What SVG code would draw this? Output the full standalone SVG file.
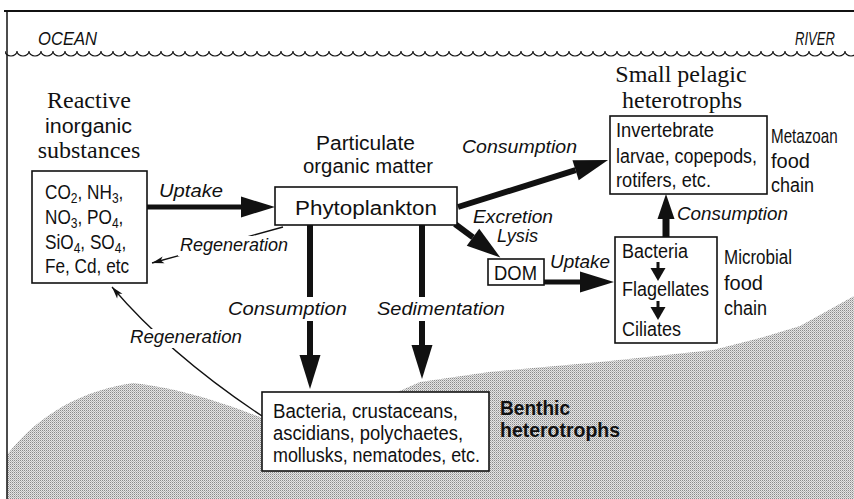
<svg xmlns="http://www.w3.org/2000/svg" width="854" height="499" viewBox="0 0 854 499">
<style>
.sf{font-family:"Liberation Serif","Times New Roman",serif;font-size:24px;fill:#111}
.sn{font-family:"Liberation Sans",Arial,sans-serif;font-size:20px;fill:#111}
.it{font-family:"Liberation Sans",Arial,sans-serif;font-style:italic;font-size:18px;fill:#111}
.bd{font-family:"Liberation Sans",Arial,sans-serif;font-weight:bold;font-size:20px;fill:#111}
.box{fill:#fff;stroke:#111;stroke-width:1.6}
.thick{stroke:#111;fill:none}
.thin{stroke:#111;stroke-width:1.3;fill:none}
.bg{fill:#fff}
</style>
<defs>
<pattern id="stip" width="2" height="2" patternUnits="userSpaceOnUse">
<rect width="2" height="2" fill="#e4e4e4"/>
<rect width="1" height="1" fill="#8a8a8a"/>
<rect x="1" y="1" width="1" height="1" fill="#b8b8b8"/>
</pattern>
<pattern id="wave" x="5" y="48" width="12" height="12" patternUnits="userSpaceOnUse">
<path d="M0,3 A6,5 0 0 0 12,3" fill="none" stroke="#111" stroke-width="1.1"/>
</pattern>
<marker id="big" markerUnits="userSpaceOnUse" markerWidth="36" markerHeight="22" refX="0" refY="10.5" orient="auto" overflow="visible">
<path d="M0,0 L34,10.5 L0,21 Z" fill="#111"/>
</marker>
<marker id="mid" markerUnits="userSpaceOnUse" markerWidth="26" markerHeight="18" refX="0" refY="8.5" orient="auto" overflow="visible">
<path d="M0,0 L25,8.5 L0,17 Z" fill="#111"/>
</marker>
<marker id="sm" markerUnits="userSpaceOnUse" markerWidth="14" markerHeight="16" refX="0" refY="7.5" orient="auto" overflow="visible">
<path d="M0,0 L13,7.5 L0,15 Z" fill="#111"/>
</marker>
<marker id="tn" markerUnits="userSpaceOnUse" markerWidth="13" markerHeight="8" refX="12" refY="3.5" orient="auto" overflow="visible">
<path d="M0,0 L12,3.5 L0,7 L3,3.5 Z" fill="#111"/>
</marker>
</defs>
<rect width="854" height="499" fill="#fff"/>
<g id="frame">
<path d="M7,455 C30,425 70,392 133,383 C180,388 230,405 262,418 L395,393 L420,382 L489,372 L600,362 L713,350 L760,338 L800,326 L854,296 L854,499 L7,499 Z" fill="url(#stip)"/>
<line x1="4" y1="11" x2="854" y2="11" stroke="#111" stroke-width="2"/>
<line x1="7" y1="11" x2="7" y2="499" stroke="#111" stroke-width="1.5"/>
<rect x="5" y="48" width="849" height="12" fill="url(#wave)"/>
<text class="it" x="38" y="45" textLength="59" lengthAdjust="spacingAndGlyphs">OCEAN</text>
<text class="it" x="795" y="45" textLength="40" lengthAdjust="spacingAndGlyphs">RIVER</text>
</g>
<g id="connectors">
<line class="thick" x1="147" y1="207" x2="241" y2="207" stroke-width="5" marker-end="url(#big)"/>
<line class="thin" x1="283" y1="227" x2="152" y2="263" marker-end="url(#tn)"/>
<path class="thin" d="M262,416 Q170,355 112,287" marker-end="url(#tn)"/>
<line class="thick" x1="310" y1="225" x2="310" y2="297" stroke-width="6"/>
<line class="thick" x1="310" y1="321" x2="310" y2="355" stroke-width="6" marker-end="url(#big)"/>
<line class="thick" x1="422" y1="225" x2="422" y2="297" stroke-width="6"/>
<line class="thick" x1="422" y1="321" x2="422" y2="345" stroke-width="6" marker-end="url(#big)"/>
<line class="thick" x1="458" y1="207" x2="575.6" y2="170.2" stroke-width="6" marker-end="url(#big)"/>
<line class="thick" x1="455" y1="224" x2="473" y2="237.3" stroke-width="6" marker-end="url(#big)"/>
<line class="thick" x1="544" y1="282" x2="580" y2="282" stroke-width="5" marker-end="url(#big)"/>
<line class="thick" x1="666" y1="237" x2="666" y2="219" stroke-width="7" marker-end="url(#mid)"/>
<rect class="bg" x="178" y="236" width="112" height="20"/>
<rect class="bg" x="128" y="329" width="116" height="19"/>
<text class="it" x="159" y="197" textLength="64" lengthAdjust="spacingAndGlyphs">Uptake</text>
<text class="it" x="180" y="251" textLength="108" lengthAdjust="spacingAndGlyphs">Regeneration</text>
<text class="it" x="130" y="343" textLength="112" lengthAdjust="spacingAndGlyphs">Regeneration</text>
<text class="it" x="228" y="315" textLength="119" lengthAdjust="spacingAndGlyphs">Consumption</text>
<text class="it" x="377" y="315" textLength="128" lengthAdjust="spacingAndGlyphs">Sedimentation</text>
<text class="it" x="462" y="153" textLength="115" lengthAdjust="spacingAndGlyphs">Consumption</text>
<text class="it" x="473" y="223" textLength="80" lengthAdjust="spacingAndGlyphs">Excretion</text>
<text class="it" x="497" y="242" textLength="41" lengthAdjust="spacingAndGlyphs">Lysis</text>
<text class="it" x="550" y="268" textLength="60" lengthAdjust="spacingAndGlyphs">Uptake</text>
<text class="it" x="677" y="220" textLength="111" lengthAdjust="spacingAndGlyphs">Consumption</text>
</g>
<g id="inorganic">
<text class="sf" x="89" y="108" text-anchor="middle">Reactive</text>
<text class="sn" x="45" y="133" font-size="23" textLength="87" lengthAdjust="spacingAndGlyphs">inorganic</text>
<text class="sf" x="89" y="158" text-anchor="middle">substances</text>
<rect class="box" x="32" y="171" width="115" height="112"/>
<g transform="translate(45,0) scale(0.86,1)">
<text class="sn" font-size="21" x="0" y="199">CO<tspan font-size="14" dy="4">2</tspan><tspan dy="-4">, NH</tspan><tspan font-size="14" dy="4">3</tspan><tspan dy="-4">,</tspan></text>
<text class="sn" font-size="21" x="0" y="224">NO<tspan font-size="14" dy="4">3</tspan><tspan dy="-4">, PO</tspan><tspan font-size="14" dy="4">4</tspan><tspan dy="-4">,</tspan></text>
<text class="sn" font-size="21" x="0" y="249">SiO<tspan font-size="14" dy="4">4</tspan><tspan dy="-4">, SO</tspan><tspan font-size="14" dy="4">4</tspan><tspan dy="-4">,</tspan></text>
<text class="sn" font-size="21" x="0" y="273">Fe, Cd, etc</text>
</g>
</g>
<g id="phytoplankton">
<text class="sn" x="316" y="150" font-size="21" textLength="99" lengthAdjust="spacingAndGlyphs">Particulate</text>
<text class="sn" x="303" y="173" font-size="21" textLength="130" lengthAdjust="spacingAndGlyphs">organic matter</text>
<rect class="box" x="275" y="187" width="182" height="38"/>
<text class="sn" x="295" y="215" font-size="23" textLength="142" lengthAdjust="spacingAndGlyphs">Phytoplankton</text>
</g>
<g id="dom">
<rect class="box" x="488" y="259" width="56" height="26"/>
<text class="sn" x="494" y="280" font-size="19" textLength="43" lengthAdjust="spacingAndGlyphs">DOM</text>
</g>
<g id="pelagic">
<text class="sf" x="681" y="82" text-anchor="middle">Small pelagic</text>
<text class="sf" x="682" y="108" text-anchor="middle">heterotrophs</text>
<rect class="box" x="610" y="116" width="157" height="78"/>
<text class="sn" x="616" y="137" textLength="98" lengthAdjust="spacingAndGlyphs">Invertebrate</text>
<text class="sn" x="616" y="163" textLength="141" lengthAdjust="spacingAndGlyphs">larvae, copepods,</text>
<text class="sn" x="616" y="187" textLength="95" lengthAdjust="spacingAndGlyphs">rotifers, etc.</text>
<text class="sn" transform="translate(771,143) scale(0.76,1)">Metazoan</text>
<text class="sn" x="771" y="168" textLength="39" lengthAdjust="spacingAndGlyphs">food</text>
<text class="sn" x="771" y="192" textLength="43" lengthAdjust="spacingAndGlyphs">chain</text>
</g>
<g id="microbial">
<rect class="box" x="615" y="237" width="102" height="106"/>
<text class="sn" x="622" y="258" textLength="66" lengthAdjust="spacingAndGlyphs">Bacteria</text>
<text class="sn" x="622" y="296" textLength="87" lengthAdjust="spacingAndGlyphs">Flagellates</text>
<text class="sn" x="622" y="336" textLength="59" lengthAdjust="spacingAndGlyphs">Ciliates</text>
<line class="thick" x1="658" y1="262" x2="658" y2="268" stroke-width="3" marker-end="url(#sm)"/>
<line class="thick" x1="658" y1="301" x2="658" y2="307" stroke-width="3" marker-end="url(#sm)"/>
<text class="sn" x="724" y="264" textLength="68" lengthAdjust="spacingAndGlyphs">Microbial</text>
<text class="sn" x="724" y="290" textLength="39" lengthAdjust="spacingAndGlyphs">food</text>
<text class="sn" x="724" y="315" textLength="43" lengthAdjust="spacingAndGlyphs">chain</text>
</g>
<g id="benthic">
<rect class="box" x="262" y="392" width="227" height="79"/>
<text class="sn" x="273" y="418" textLength="185" lengthAdjust="spacingAndGlyphs">Bacteria, crustaceans,</text>
<text class="sn" x="273" y="440" textLength="190" lengthAdjust="spacingAndGlyphs">ascidians, polychaetes,</text>
<text class="sn" x="273" y="462" textLength="207" lengthAdjust="spacingAndGlyphs">mollusks, nematodes, etc.</text>
<text class="bd" x="500" y="415" textLength="70" lengthAdjust="spacingAndGlyphs">Benthic</text>
<text class="bd" x="500" y="437" textLength="120" lengthAdjust="spacingAndGlyphs">heterotrophs</text>
</g>
</svg>
